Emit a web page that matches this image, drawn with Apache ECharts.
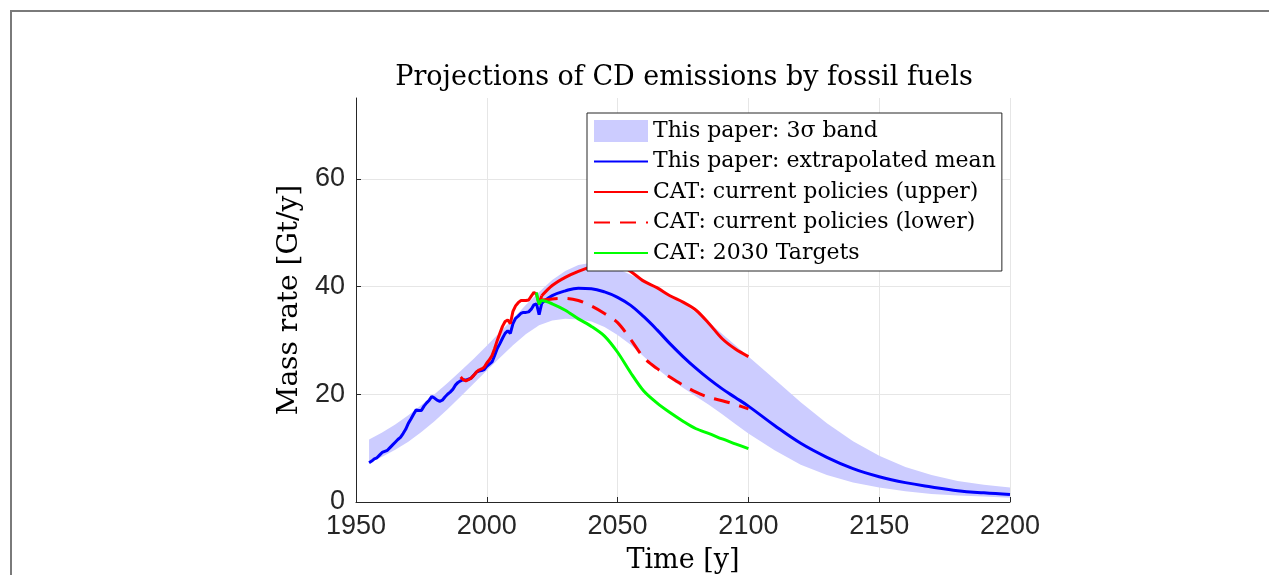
<!DOCTYPE html>
<html>
<head>
<meta charset="utf-8">
<script src="https://cdn.jsdelivr.net/npm/echarts@6/dist/echarts.min.js"></script>
<style>
  html, body { margin: 0; padding: 0; background: #fff; overflow: hidden; }
  #chart { position: absolute; left: 0; top: 0; width: 1269px; height: 575px; }
  #frame { position: absolute; left: 10px; top: 10px; width: 1300px; height: 600px;
           border-left: 2px solid #7a7a7a; border-top: 2px solid #7a7a7a; pointer-events: none; }
</style>
</head>
<body>
<div id="chart"></div>
<div id="frame"></div>
<script>
// ---------------- data ----------------
const titleText = 'Projections of CD emissions by fossil fuels';
const xName = 'Time [y]';
const yName = 'Mass rate [Gt/y]';
const xTicks = [1950, 2000, 2050, 2100, 2150, 2200];
const yTicks = [0, 20, 40, 60];

const nameBand = 'This paper: 3σ band';
const nameMean = 'This paper: extrapolated mean';
const nameUpper = 'CAT: current policies (upper)';
const nameLower = 'CAT: current policies (lower)';
const nameTarget = 'CAT: 2030 Targets';

// historical (blue) 1955..2021
const histYears = [1955,1956,1957,1958,1959,1960,1961,1962,1963,1964,1965,1966,1967,1968,1969,
  1970,1971,1972,1973,1974,1975,1976,1977,1978,1979,1980,1981,1982,1983,1984,1985,1986,1987,1988,1989,
  1990,1991,1992,1993,1994,1995,1996,1997,1998,1999,2000,2001,2002,2003,2004,2005,2006,2007,2008,2009,
  2010,2011,2012,2013,2014,2015,2016,2017,2018,2019,2020,2021];
const histValues = [7.3,7.6,8.0,8.2,8.7,9.2,9.4,9.6,10.1,10.6,11.1,11.6,12.0,12.7,13.5,
  14.6,15.4,16.3,17.1,17.0,17.0,17.8,18.4,18.9,19.6,19.3,18.9,18.7,18.9,19.5,20.0,20.4,20.9,21.7,22.2,
  22.5,22.7,22.6,22.8,23.0,23.5,24.1,24.3,24.4,24.6,25.2,25.6,26.0,27.2,28.5,29.4,30.4,31.3,31.8,31.3,
  33.1,34.1,34.5,35.0,35.2,35.2,35.3,35.8,36.6,36.8,34.8,36.9];

// extrapolated mean (blue)
const meanYears = [2021,2025,2030,2035,2040,2045,2050,2055,2060,2065,2070,2075,2080,2085,2090,2095,2100,
  2110,2120,2130,2140,2150,2160,2170,2180,2190,2200];
const meanValues = [36.9,38.3,39.2,39.7,39.6,39.0,38.0,36.5,34.4,32.0,29.4,27.0,24.8,22.8,21.0,19.4,17.8,
  14.2,10.9,8.3,6.2,4.7,3.6,2.8,2.1,1.7,1.4];

// 3 sigma band
const bandYears = [1955,1960,1965,1970,1975,1980,1985,1990,1995,2000,2005,2010,2015,2020,2025,2030,2035,
  2040,2045,2050,2055,2060,2065,2070,2075,2080,2085,2090,2095,2100,2110,2120,2130,2140,2150,2160,2170,2180,2190,2200];
const bandUpper = [11.6,12.9,14.4,16.1,18.0,20.0,22.1,24.3,26.6,29.0,31.5,34.0,36.6,39.0,41.2,42.9,44.0,
  44.4,44.2,43.3,42.2,41.0,39.8,38.4,36.9,35.2,33.3,31.2,29.1,27.0,22.8,18.5,14.6,11.3,8.6,6.5,5.0,3.9,3.2,2.7];
const bandLower = [7.3,8.4,9.7,11.2,13.0,15.0,17.2,19.6,22.0,24.4,26.8,29.1,31.2,32.8,33.7,34.0,33.9,
  33.5,32.5,31.0,29.2,27.0,24.8,22.9,21.2,19.6,18.0,16.3,14.5,12.7,9.6,6.9,5.0,3.6,2.7,2.0,1.5,1.2,1.0,0.8];

// CAT current policies (upper), history + projection
const upperHistYears = [1990,1991,1992,1993,1994,1995,1996,1997,1998,1999,2000,2001,2002,2003,2004,2005,
  2006,2007,2008,2009,2010,2011,2012,2013,2014,2015,2016,2017,2018,2019,2020,2021];
const upperHistValues = [23.2,22.7,22.5,22.7,23.0,23.5,24.1,24.5,24.7,25.0,25.8,26.4,27.2,28.5,30.0,31.3,
  32.6,33.5,33.8,33.1,35.4,36.4,37.0,37.4,37.4,37.4,37.5,38.2,38.9,38.6,36.8,38.3];
const upperProjYears = [2021,2025,2030,2035,2040,2045,2050,2055,2060,2065,2070,2075,2080,2085,2090,2095,2100];
const upperProjValues = [38.3,40.2,41.7,42.8,43.7,44.3,44.2,42.8,41.0,39.8,38.3,37.1,35.6,33.1,30.3,28.4,27.0];

// CAT current policies (lower)
const lowerYears = [2021,2025,2030,2035,2040,2045,2050,2055,2060,2065,2070,2075,2080,2085,2090,2095,2100];
const lowerValues = [37.5,37.7,37.8,37.4,36.4,35.0,33.3,30.2,26.8,24.8,23.2,21.7,20.4,19.4,18.8,18.1,17.3];

// CAT 2030 targets
const targetYears = [2019,2020,2021,2025,2030,2035,2040,2045,2050,2055,2060,2065,2070,2075,2080,2085,2090,2095,2100];
const targetValues = [38.9,36.8,37.4,36.8,35.6,34.0,32.6,30.8,27.8,24.0,20.6,18.4,16.6,15.0,13.6,12.7,11.7,10.8,9.9];

// ---------------- chart ----------------
const zip = (xs, ys) => xs.map((x, i) => [x, ys[i]]);
const bandColor = 'rgb(204,204,255)';
const BLUE = '#0000ff', RED = '#ff0000', GREEN = '#00ff00';
const serif = 'DejaVu Serif';
const sans = 'Liberation Sans';

const chart = echarts.init(document.getElementById('chart'), null, { renderer: 'canvas' });
const option = {
  backgroundColor: '#ffffff',
  animation: false,
  title: {
    text: titleText, left: 679, top: 59, textAlign: 'center',
    textStyle: { fontFamily: serif, fontSize: 27, fontWeight: 'normal', color: '#000' }
  },
  grid: { left: 356, right: 259, top: 98, bottom: 73, containLabel: false, outerBoundsMode: 'none' },
  xAxis: {
    type: 'value', min: 1950, max: 2200, interval: 50,
    name: xName, nameLocation: 'middle', nameGap: 45,
    nameTextStyle: { fontFamily: serif, fontSize: 27, color: '#000' },
    axisLine: { show: true, onZero: false, lineStyle: { color: '#262626', width: 1 } },
    axisTick: { show: true, inside: true, length: 5, lineStyle: { color: '#262626' } },
    axisLabel: { margin: 11, fontFamily: sans, fontSize: 27, color: '#262626',
                 customValues: xTicks, formatter: v => String(v) },
    splitLine: { show: true, lineStyle: { color: '#e6e6e6', width: 1 } }
  },
  yAxis: {
    type: 'value', min: 0, max: 75, interval: 20,
    name: yName, nameLocation: 'middle', nameGap: 45,
    nameTextStyle: { fontFamily: serif, fontSize: 28, color: '#000' },
    axisLine: { show: true, onZero: false, lineStyle: { color: '#262626', width: 1 } },
    axisTick: { show: true, inside: true, length: 5, lineStyle: { color: '#262626' }, customValues: yTicks },
    axisLabel: { margin: 11, fontFamily: sans, fontSize: 27, color: '#262626', customValues: yTicks },
    splitLine: { show: true, lineStyle: { color: ['#e6e6e6', '#e6e6e6', '#e6e6e6', '#e6e6e6', 'rgba(0,0,0,0)'], width: 1 } }
  },
  legend: {
    left: 587, top: 113, orient: 'vertical',
    padding: [7, 6, 7, 6], itemWidth: 54, itemHeight: 22, itemGap: 8.5,
    backgroundColor: '#ffffff', borderColor: '#262626', borderWidth: 1,
    selectedMode: false,
    itemStyle: { opacity: 0 },
    textStyle: { fontFamily: serif, fontSize: 22, color: '#000', lineHeight: 22 },
    data: [
      { name: nameBand, icon: 'rect', itemStyle: { color: bandColor, opacity: 1 } },
      nameMean, nameUpper, nameLower, nameTarget
    ]
  },
  series: [
    { name: nameBand, type: 'custom', silent: true, clip: true, z: 1, color: bandColor,
      encode: { x: 0, y: [1, 2] },
      data: bandYears.map((y, i) => [y, bandLower[i], bandUpper[i]]),
      renderItem: function (params, api) {
        if (params.dataIndex !== 0) return null;
        const pts = [];
        for (let i = 0; i < bandYears.length; i++) pts.push(api.coord([bandYears[i], bandUpper[i]]));
        for (let i = bandYears.length - 1; i >= 0; i--) pts.push(api.coord([bandYears[i], bandLower[i]]));
        return { type: 'polygon', shape: { points: pts }, style: { fill: bandColor, stroke: null } };
      } },
    { name: nameMean, type: 'line', symbol: 'none', color: BLUE,
      lineStyle: { color: BLUE, width: 3 }, data: zip(histYears, histValues), z: 2 },
    { name: nameMean, type: 'line', symbol: 'none', smooth: 0.4, color: BLUE,
      lineStyle: { color: BLUE, width: 3 }, data: zip(meanYears, meanValues), z: 2 },
    { name: nameUpper, type: 'line', symbol: 'none', color: RED,
      lineStyle: { color: RED, width: 3 }, data: zip(upperHistYears, upperHistValues), z: 3 },
    { name: nameUpper, type: 'line', symbol: 'none', smooth: 0.3, color: RED,
      lineStyle: { color: RED, width: 3 }, data: zip(upperProjYears, upperProjValues), z: 3 },
    { name: nameLower, type: 'line', symbol: 'none', smooth: 0.3, color: RED,
      lineStyle: { color: RED, width: 3, type: [16, 10] }, data: zip(lowerYears, lowerValues), z: 3 },
    { name: nameTarget, type: 'line', symbol: 'none', smooth: 0.3, color: GREEN,
      lineStyle: { color: GREEN, width: 3 }, data: zip(targetYears, targetValues), z: 4 }
  ]
};
chart.setOption(option);
</script>
</body>
</html>
